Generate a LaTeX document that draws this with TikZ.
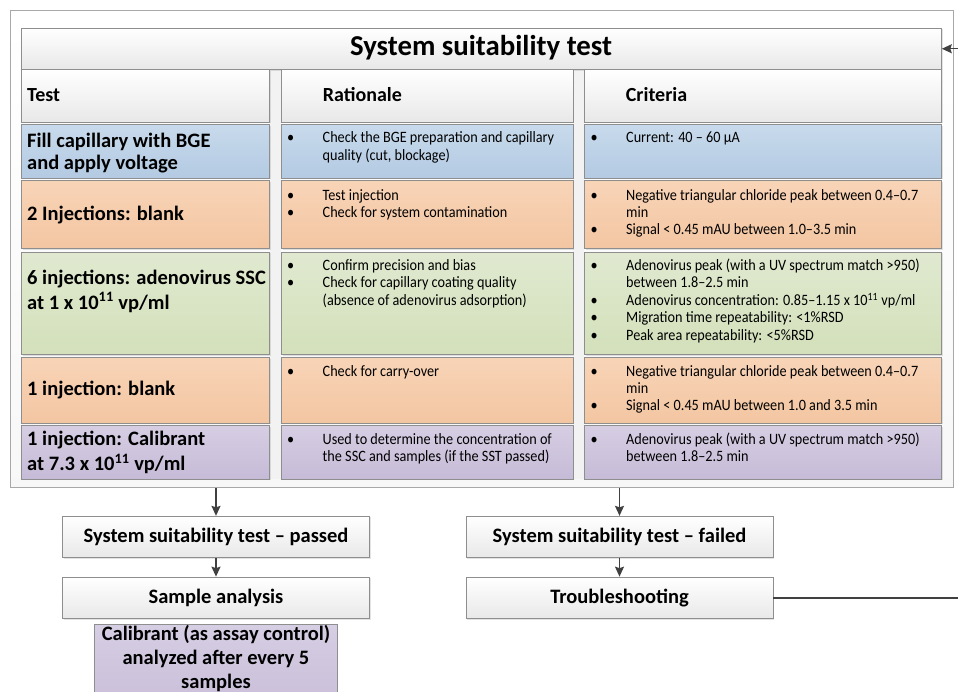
\documentclass[tikz,border=0pt]{standalone}
\usepackage{fontspec}
\setmainfont{Carlito}
\newfontfamily\bodyfam[FakeStretch=0.9]{Carlito}
\usetikzlibrary{arrows.meta,shadows}
\definecolor{cellborder}{HTML}{8E8E8E}
\definecolor{outerborder}{HTML}{A8A8A8}
\definecolor{lineclr}{HTML}{404040}
\definecolor{blueT}{HTML}{C8DAEC}
\definecolor{blueB}{HTML}{B3CAE2}
\definecolor{orangeT}{HTML}{F8D4B7}
\definecolor{orangeB}{HTML}{F3C6A2}
\definecolor{greenT}{HTML}{E0E9D0}
\definecolor{greenB}{HTML}{D3E0BA}
\definecolor{purpleT}{HTML}{D6CEE3}
\definecolor{purpleB}{HTML}{C6BBD7}
\definecolor{greyB}{HTML}{E8E8E8}
\newcommand{\blist}[1]{\begin{tabular}[t]{@{}p{35.5pt}@{}l@{}}#1\end{tabular}}
\newcommand{\tlist}[1]{\begin{tabular}[t]{@{}l@{}}#1\end{tabular}}
\newcommand{\bodyfont}{\bodyfam\fontsize{15.8}{17.3}\selectfont}
\newcommand{\testfont}{\fontsize{20.5}{22.5}\selectfont\bfseries}
\begin{document}
\begin{tikzpicture}[x=1pt,y=-1pt,
  cell/.style={draw=cellborder, line width=0.8pt, anchor=north west, inner sep=0pt, rectangle},
  softshadow/.style={drop shadow={shadow xshift=1.2pt, shadow yshift=-1.2pt, opacity=0.22}},
  whitecell/.style={cell, top color=white, bottom color=greyB},
  bbox/.style={draw=cellborder, line width=0.8pt, rectangle, inner sep=0pt, top color=white, bottom color=greyB,
    softshadow, font=\fontsize{20.5}{24}\selectfont\bfseries, minimum width=307, minimum height=41.5},
  testtxt/.style={anchor=base west, inner sep=0pt, font=\testfont},
  bodytxt/.style={anchor=base west, inner sep=0pt, font=\bodyfont},
  colhead/.style={anchor=base west, inner sep=0pt, font=\fontsize{20}{24}\selectfont\bfseries},
  conn/.style={draw=lineclr, line width=1.5pt, -{Stealth[length=10pt, width=9pt, inset=1.5pt]}},
  plainconn/.style={draw=lineclr, line width=1.5pt}
]
\useasboundingbox (0,0) rectangle (958,692);
\clip (0,0) rectangle (958,692);
\fill[white] (0,0) rectangle (958,692);

% outer container
\node[draw=outerborder, line width=0.9pt, anchor=north west, inner sep=0pt, rectangle,
      top color=white, bottom color=gray!6, minimum width=943, minimum height=477] (outer) at (10,10) {};

% faint column gaps
\fill[gray!10] (269.5,69) rectangle (280.5,478.7);
\fill[gray!10] (573,69) rectangle (584,478.7);

% header
\node[whitecell, softshadow, minimum width=920, minimum height=41.3] (header) at (21,27.7) {};
\node[anchor=base, inner sep=0pt, font=\fontsize{28.8}{30}\selectfont\bfseries] (headtxt) at (481,55.5) {System suitability test};

% column headers
\node[whitecell, softshadow, minimum width=248, minimum height=52.7] (h1) at (21,69) {};
\node[whitecell, softshadow, minimum width=291.7, minimum height=52.7] (h2) at (281,69) {};
\node[whitecell, softshadow, minimum width=356.7, minimum height=52.7] (h3) at (584.3,69) {};
\node[colhead] (h1t) at (27,101.7) {Test};
\node[colhead] (h2t) at (322.7,101.7) {Rationale};
\node[colhead] (h3t) at (625.7,101.7) {Criteria};

% row cells
\newcommand{\rowcells}[5]{%
  \node[cell, softshadow, top color=#4, bottom color=#5, minimum width=248, minimum height=#3] (#1a) at (21,#2) {};
  \node[cell, softshadow, top color=#4, bottom color=#5, minimum width=291.7, minimum height=#3] (#1b) at (281,#2) {};
  \node[cell, softshadow, top color=#4, bottom color=#5, minimum width=356.7, minimum height=#3] (#1c) at (584.3,#2) {};}
\rowcells{r1}{124.3}{53.4}{blueT}{blueB}
\rowcells{r2}{180.3}{68}{orangeT}{orangeB}
\rowcells{r3}{251.7}{102.6}{greenT}{greenB}
\rowcells{r4}{357}{65.7}{orangeT}{orangeB}
\rowcells{r5}{425}{53.7}{purpleT}{purpleB}

% row 1
\node[testtxt] (r1t) at (27,147.3) {\tlist{Fill capillary with BGE\\and apply voltage}};
\node[bodytxt] (r1r) at (287,143) {\blist{\textbullet & Check the BGE preparation and capillary\\ & quality (cut, blockage)}};
\node[bodytxt] (r1k) at (590.5,143) {\blist{\textbullet & Current: 40 – 60 µA}};

% row 2
\node[testtxt] (r2t) at (27,221) {2 Injections: blank};
\node[bodytxt] (r2r) at (287,200.3) {\blist{\textbullet & Test injection\\ \textbullet & Check for system contamination}};
\node[bodytxt] (r2k) at (590.5,200.3) {\blist{\textbullet & Negative triangular chloride peak between 0.4–0.7\\ & min\\ \textbullet & Signal < 0.45 mAU between 1.0–3.5 min}};

% row 3
\node[testtxt] (r3t) at (27,284.3) {\tlist{6 injections: adenovirus SSC\\[1.5pt] at 1 x 10\textsuperscript{11} vp/ml}};
\node[bodytxt] (r3r) at (287,270.7) {\blist{\textbullet & Confirm precision and bias\\ \textbullet & Check for capillary coating quality\\ & (absence of adenovirus adsorption)}};
\node[bodytxt] (r3k) at (590.5,270.7) {\blist{\textbullet & Adenovirus peak (with a UV spectrum match >950)\\ & between 1.8–2.5 min\\ \textbullet & Adenovirus concentration: 0.85–1.15 x 10\textsuperscript{11} vp/ml\\ \textbullet & Migration time repeatability: <1\%RSD\\ \textbullet & Peak area repeatability: <5\%RSD}};

% row 4
\node[testtxt] (r4t) at (27,395.7) {1 injection: blank};
\node[bodytxt] (r4r) at (287,376) {\blist{\textbullet & Check for carry-over}};
\node[bodytxt] (r4k) at (590.5,376) {\blist{\textbullet & Negative triangular chloride peak between 0.4–0.7\\ & min\\ \textbullet & Signal < 0.45 mAU between 1.0 and 3.5 min}};

% row 5
\node[testtxt] (r5t) at (27,445.7) {\tlist{1 injection: Calibrant\\[1.5pt] at 7.3 x 10\textsuperscript{11} vp/ml}};
\node[bodytxt] (r5r) at (287,444.5) {\blist{\textbullet & Used to determine the concentration of\\ & the SSC and samples (if the SST passed)}};
\node[bodytxt] (r5k) at (590.5,444.5) {\blist{\textbullet & Adenovirus peak (with a UV spectrum match >950)\\ & between 1.8–2.5 min}};

% bottom boxes
\node[bbox] (passed) at (216,537) {System suitability test – passed};
\node[bbox] (sample) at (216,597.8) {Sample analysis};
\node[bbox] (failed) at (619.5,537) {System suitability test – failed};
\node[bbox] (trouble) at (619.5,597.8) {Troubleshooting};
\node[draw=cellborder, line width=0.8pt, rectangle, anchor=north, inner sep=0pt,
      top color=purpleT, bottom color=purpleB, minimum width=242.5, minimum height=100] (cal) at (216,624) {};
\node[anchor=base, inner sep=0pt, font=\fontsize{20.5}{24}\selectfont\bfseries] (caltxt) at (216,640)
  {\begin{tabular}[t]{@{}c@{}}Calibrant (as assay control)\\ analyzed after every 5\\ samples\end{tabular}};

% connectors
\coordinate (loopx) at (990,0);
\draw[conn] (passed.north |- outer.south) -- (passed.north);
\draw[conn] (failed.north |- outer.south) -- (failed.north);
\draw[conn] (passed.south) -- (sample.north);
\draw[conn] (failed.south) -- (trouble.north);
\draw[conn] (trouble.east) -- (trouble.east -| loopx) -- (loopx |- header.east) -- (header.east);
\end{tikzpicture}
\end{document}
